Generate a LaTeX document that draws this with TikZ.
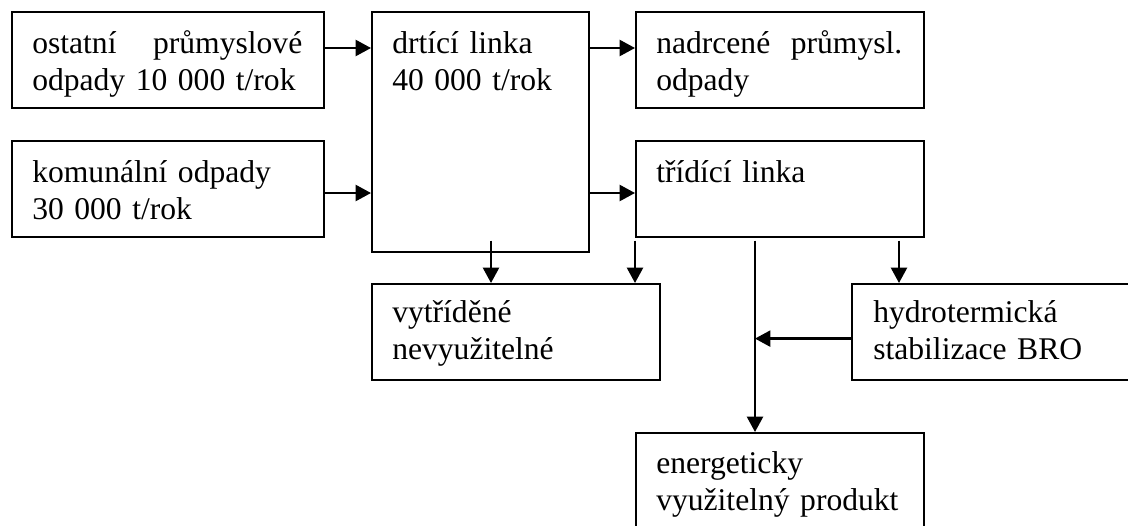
\documentclass[tikz,border=0pt]{standalone}
\usepackage{fontspec}
\setmainfont{Liberation Serif}
\usetikzlibrary{calc,arrows.meta}
\tikzset{
  box/.style={draw=black, line width=1.2pt, rectangle, inner sep=0pt, anchor=north west},
  txt/.style={inner sep=0pt, anchor=base west, align=left, text width=300pt,
    font=\fontsize{23.7pt}{27.75pt}\selectfont},
  arr/.style={line width=1.7pt, -{Triangle[length=11.5pt,width=12pt]}},
}
\begin{document}
\begin{tikzpicture}[x=0.75pt,y=-0.75pt]
\fill[white] (0,0) rectangle (1128,525);
\useasboundingbox (0,0) rectangle (1128,525);
\clip (0,0) rectangle (1128,525);
% boxes (pixel coordinates, y downward)
\node[box, minimum width=234pt, minimum height=72pt] (b1) at (11,11) {};
\node[box, minimum width=234pt, minimum height=72pt] (b2) at (11,140) {};
\node[box, minimum width=162.75pt, minimum height=180pt] (b3) at (371,11) {};
\node[box, minimum width=216pt, minimum height=72pt] (b4) at (635,11) {};
\node[box, minimum width=216pt, minimum height=72pt] (b5) at (635,140) {};
\node[box, minimum width=216pt, minimum height=72pt] (b6) at (371,283) {};
\node[box, minimum width=216pt, minimum height=72pt] (b7) at (635,432) {};
\node[box, minimum width=216pt, minimum height=72pt] (b8) at (851,283) {};
% texts
\node[txt] (t1) at ($(b1.north west)+(21,42)$) {\makebox[202.5pt][s]{ostatní\hfill průmyslové}\\odpady 10 000 t/rok};
\node[txt] (t2) at ($(b2.north west)+(21,42)$) {komunální odpady\\30 000 t/rok};
\node[txt] (t3) at ($(b3.north west)+(21,42)$) {drtící linka\\40 000 t/rok};
\node[txt] (t4) at ($(b4.north west)+(21,42)$) {\makebox[184.5pt][s]{nadrcené\hfill průmysl.}\\odpady};
\node[txt] (t5) at ($(b5.north west)+(21,42)$) {třídící linka};
\node[txt] (t6) at ($(b6.north west)+(21,39)$) {vytříděné\\nevyužitelné};
\node[txt] (t7) at ($(b7.north west)+(21,41)$) {energeticky\\využitelný produkt};
\node[txt] (t8) at ($(b8.north west)+(22,39)$) {hydrotermická\\stabilizace BRO};
% connectors
\draw[arr] ($(b1.north east)+(0,37)$) -- ($(b3.north west)+(0,37)$);
\draw[arr] ($(b2.north east)+(0,53)$) -- ($(b3.north west)+(0,182)$);
\draw[arr] ($(b3.north east)+(0,37)$) -- ($(b4.north west)+(0,37)$);
\draw[arr] ($(b3.north east)+(0,182)$) -- ($(b5.north west)+(0,53)$);
\draw[arr] ($(b3.south west)+(120,-12)$) -- ($(b6.north west)+(120,0)$);
\draw[arr] ($(b5.south west)+(0,3)$) -- (b5.south west |- b6.north);
\draw[arr] ($(b5.south west)+(120,3)$) -- ($(b7.north west)+(120,0)$);
\draw[arr] ($(b5.south west)+(264,3)$) -- ($(b8.north west)+(48,0)$);
\coordinate (j) at ($(b5.south west)+(120,101)$);
\draw[arr] (b8.west |- j) -- (j);
\end{tikzpicture}
\end{document}
